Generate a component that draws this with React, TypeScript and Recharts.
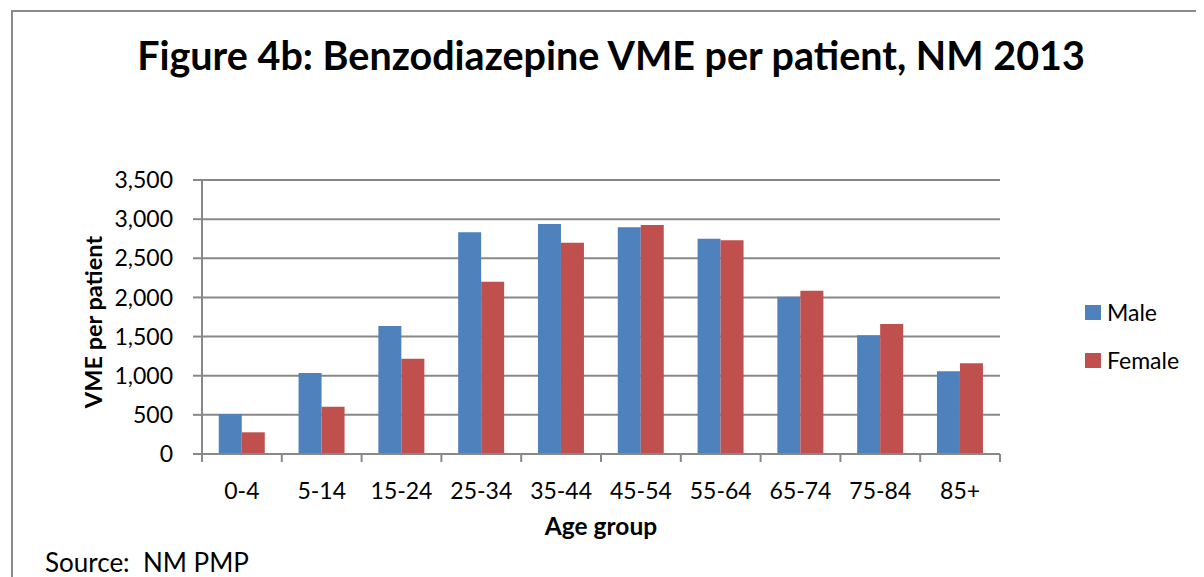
import React from 'react';
import { BarChart, Bar, XAxis, YAxis, CartesianGrid, Legend } from 'recharts';

const categories = ['0-4', '5-14', '15-24', '25-34', '35-44', '45-54', '55-64', '65-74', '75-84', '85+'];
const maleValues = [510, 1035, 1635, 2832, 2938, 2895, 2750, 2009, 1516, 1056];
const femaleValues = [277, 604, 1218, 2201, 2699, 2925, 2729, 2086, 1660, 1158];
const yTicks = [0, 500, 1000, 1500, 2000, 2500, 3000, 3500];
const seriesNames = ['Male', 'Female'];
const seriesColors = ['#4F81BD', '#C0504D'];

const data = categories.map((c, i) => ({ age: c, Male: maleValues[i], Female: femaleValues[i] }));

const CHART_W = 1196;
const CHART_H = 569;
const MARGIN = { top: 172, right: 94, bottom: 83, left: 0 };
const Y_AXIS_W = 194;
const X_AXIS_H = 40;
const LEGEND_W = 110;
const PLOT_W = CHART_W - MARGIN.left - Y_AXIS_W - MARGIN.right - LEGEND_W;
const BAND = PLOT_W / categories.length;
const FONT = 'Lato, "Open Sans", sans-serif';
const AXIS_GRAY = '#888888';

const fmt = (v: number) => v.toLocaleString('en-US');

const XTick = (props: any) => {
  const { x, y, payload, index } = props;
  const half = BAND / 2;
  return (
    <g>
      <line x1={x - half} x2={x - half} y1={y} y2={y + 8} stroke={AXIS_GRAY} strokeWidth={2} />
      {index === categories.length - 1 && (
        <line x1={x + half} x2={x + half} y1={y} y2={y + 8} stroke={AXIS_GRAY} strokeWidth={2} />
      )}
      <text x={x} y={y + 29} dy="0.71em" textAnchor="middle" fill="#000" fontSize={23} fontFamily={FONT}>
        {payload.value}
      </text>
    </g>
  );
};

const LegendContent = () => (
  <div style={{ fontFamily: FONT, fontSize: 23, color: '#000' }}>
    {seriesNames.map((n, i) => (
      <div key={n} style={{ display: 'flex', alignItems: 'center', height: 48 }}>
        <span style={{ display: 'inline-block', width: 16, height: 15, background: seriesColors[i], marginRight: 6 }} />
        <span>{n}</span>
      </div>
    ))}
  </div>
);

export default function App() {
  return (
    <div style={{ position: 'relative', width: CHART_W, height: CHART_H, overflow: 'hidden', background: '#fff' }}>
      <style>{'html,body{overflow:hidden}'}</style>
      <div
        style={{
          position: 'absolute',
          left: 3,
          top: 2,
          width: 3000,
          height: 3000,
          borderLeft: '2px solid #8a8a8a',
          borderTop: '2px solid #8a8a8a',
        }}
      />
      <div
        style={{
          position: 'absolute',
          left: 603,
          top: 27,
          transform: 'translateX(-50%)',
          whiteSpace: 'nowrap',
          fontFamily: FONT,
          fontWeight: 700,
          fontSize: 39.5,
          lineHeight: 1,
          color: '#000',
        }}
      >
        Figure 4b: Benzodiazepine VME per patient, NM 2013
      </div>
      <div
        style={{
          position: 'absolute',
          left: 37,
          top: 541,
          whiteSpace: 'nowrap',
          fontFamily: FONT,
          fontSize: 26,
          lineHeight: 1,
          color: '#000',
        }}
      >
        Source:&nbsp; NM PMP
      </div>
      <div style={{ position: 'absolute', left: 0, top: 0 }}>
        <BarChart
          width={CHART_W}
          height={CHART_H}
          data={data}
          margin={MARGIN}
          barCategoryGap="21%"
          barGap={0}
        >
          <CartesianGrid vertical={false} stroke={AXIS_GRAY} strokeWidth={2} />
          <XAxis
            dataKey="age"
            height={X_AXIS_H}
            tickLine={false}
            tickSize={0}
            tickMargin={0}
            axisLine={{ stroke: AXIS_GRAY, strokeWidth: 2 }}
            tick={<XTick />}
            interval={0}
            label={{
              content: (p: any) => {
                const vb = p.viewBox || {};
                return (
                  <text
                    x={vb.x + vb.width / 2}
                    y={vb.y + 81}
                    textAnchor="middle"
                    fontFamily={FONT}
                    fontWeight={700}
                    fontSize={24.5}
                    fill="#000"
                  >
                    Age group
                  </text>
                );
              },
            }}
          />
          <YAxis
            width={Y_AXIS_W}
            domain={[0, 3500]}
            ticks={yTicks}
            interval={0}
            tickFormatter={fmt}
            tickSize={9}
            tickMargin={20}
            tickLine={{ stroke: AXIS_GRAY, strokeWidth: 2 }}
            axisLine={{ stroke: AXIS_GRAY, strokeWidth: 2 }}
            tick={{ fill: '#000', fontSize: 23, fontFamily: FONT }}
            label={{
              content: () => {
                const cx = 85;
                const cy = 314;
                return (
                  <text
                    x={cx}
                    y={cy}
                    transform={`rotate(-90, ${cx}, ${cy})`}
                    textAnchor="middle"
                    dominantBaseline="central"
                    fontFamily={FONT}
                    fontWeight={700}
                    fontSize={23.5}
                    fill="#000"
                  >
                    VME per patient
                  </text>
                );
              },
            }}
          />
          <Legend
            layout="vertical"
            align="right"
            verticalAlign="top"
            content={<LegendContent />}
            wrapperStyle={{ left: 1077, top: 280, width: LEGEND_W, right: 'auto' }}
          />
          <Bar dataKey="Male" fill={seriesColors[0]} isAnimationActive={false} />
          <Bar dataKey="Female" fill={seriesColors[1]} isAnimationActive={false} />
        </BarChart>
      </div>
    </div>
  );
}
